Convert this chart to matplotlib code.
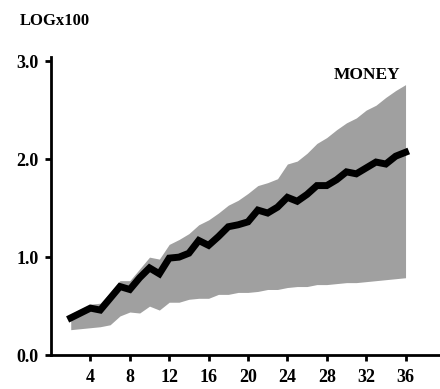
import numpy as np
import matplotlib
matplotlib.use("Agg")
from matplotlib import pyplot as plt

quarters = list(range(2, 37))
median = [0.38, 0.43, 0.48, 0.46, 0.58, 0.70, 0.67, 0.79, 0.89, 0.83,
          0.99, 1.00, 1.04, 1.17, 1.12, 1.21, 1.31, 1.33, 1.36, 1.48,
          1.45, 1.51, 1.61, 1.57, 1.64, 1.73, 1.73, 1.79, 1.87, 1.85,
          1.91, 1.97, 1.95, 2.03, 2.07]
upper = [0.42, 0.47, 0.52, 0.53, 0.64, 0.76, 0.76, 0.88, 1.00, 0.98,
         1.13, 1.18, 1.24, 1.33, 1.38, 1.45, 1.53, 1.58, 1.65, 1.73,
         1.76, 1.80, 1.95, 1.98, 2.06, 2.16, 2.22, 2.30, 2.37, 2.42,
         2.50, 2.55, 2.63, 2.70, 2.76]
lower = [0.26, 0.27, 0.28, 0.29, 0.31, 0.40, 0.44, 0.43, 0.50, 0.46,
         0.54, 0.54, 0.57, 0.58, 0.58, 0.62, 0.62, 0.64, 0.64, 0.65,
         0.67, 0.67, 0.69, 0.70, 0.70, 0.72, 0.72, 0.73, 0.74, 0.74,
         0.75, 0.76, 0.77, 0.78, 0.79]
xticks = [4, 8, 12, 16, 20, 24, 28, 32, 36]
yticks = [0.0, 1.0, 2.0, 3.0]
ytick_labels = ['0.0', '1.0', '2.0', '3.0']

plt.rcParams['font.family'] = 'Liberation Serif'
plt.rcParams['font.weight'] = 'bold'

fig = plt.figure(figsize=(4.4, 3.89), dpi=100)
ax = fig.add_axes([0.116, 0.087, 0.884, 0.766])

ax.fill_between(quarters, lower, upper, color='#a0a0a0', linewidth=0)
ax.plot(quarters, median, color='black', linewidth=5, solid_joinstyle='miter')

ax.set_xlim(0, 39.5)
ax.set_ylim(0, 3.04)
ax.set_xticks(xticks)
ax.set_xticklabels([str(t) for t in xticks], fontsize=13, fontweight='bold')
ax.set_yticks(yticks)
ax.set_yticklabels(ytick_labels, fontsize=13, fontweight='bold')
ax.tick_params(axis='both', direction='out', length=4, width=2)
ax.tick_params(axis='x', pad=6)
ax.tick_params(axis='y', pad=5)

for side in ['top', 'right']:
    ax.spines[side].set_visible(False)
for side in ['left', 'bottom']:
    ax.spines[side].set_linewidth(2)

ax.text(32.1, 2.86, 'MONEY', ha='center', va='center', fontsize=12.5, fontweight='bold')
fig.text(20/440, 1 - 21/389, 'LOGx100', ha='left', va='center', fontsize=12, fontweight='bold')

fig.savefig('out.png', dpi=100)
